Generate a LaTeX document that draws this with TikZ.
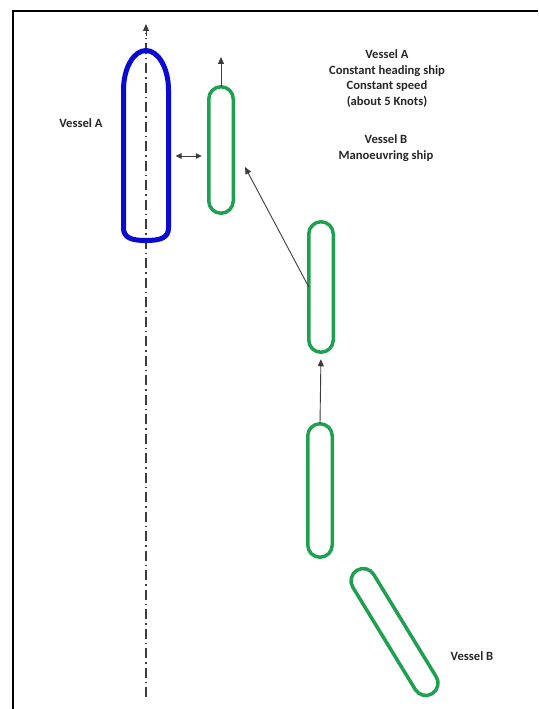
\documentclass[tikz,border=0pt]{standalone}
\usepackage{fontspec}
\setmainfont{Carlito}
\usetikzlibrary{arrows.meta,shapes.misc}
\definecolor{vblue}{RGB}{10,10,210}
\definecolor{vgreen}{RGB}{30,160,80}
\definecolor{arrgray}{RGB}{60,60,60}
\begin{document}
\begin{tikzpicture}[x=1pt,y=1pt,
  shipb/.style={draw=vgreen, line width=3.5pt, rounded rectangle, minimum height=24.5pt, inner sep=0pt, outer sep=0pt},
  arr/.style={draw=arrgray, line width=0.9pt, -{Triangle[length=7pt,width=6pt]}},
  darr/.style={draw=arrgray, line width=0.9pt, {Triangle[length=6pt,width=5.5pt]}-{Triangle[length=6pt,width=5.5pt]}},
  cline/.style={draw=arrgray, line width=1.1pt, dash pattern=on 10pt off 4pt on 1.5pt off 4pt},
  lbl/.style={font=\bfseries\fontsize{12.6}{15.5}\selectfont, text=black!85, align=center, inner sep=0pt}
]
\useasboundingbox (0,0) rectangle (538,-709);
% frame
\draw[line width=2pt] (13,-709) -- (13,-11) -- (538,-11);
% centre line of vessel A
\draw[cline] (146,-697) -- (146,-33);
\draw[arr] (146,-36) -- (146,-24);
% vessel A
\draw[vblue, line width=5pt] (123.5,-228) -- (123.5,-90)
  arc[start angle=180, end angle=0, x radius=22.5, y radius=39.5]
  -- (168.5,-228) .. controls (168.5,-238) and (160,-240.5) .. (146,-240.5)
  .. controls (132,-240.5) and (123.5,-238) .. (123.5,-228) -- cycle;
\coordinate (aE) at (168.5,-156);
% vessel B positions (rotate=90: east = bow/top, west = stern/bottom)
\node[shipb, minimum width=126.5pt, rotate=90] (s1) at (221,-150) {};
\node[shipb, minimum width=130.5pt, rotate=90] (s2) at (321,-287) {};
\node[shipb, minimum width=133.5pt, rotate=90] (s3) at (320,-490.5) {};
\node[shipb, minimum width=144.5pt, rotate=121.4] (s4) at (394.5,-632) {};
% arrows
\coordinate (t1) at (221,-57);
\draw[arr] (s1.east) -- (t1);
\draw[darr, shorten <=7pt, shorten >=7pt] (aE) -- (aE -| s1.north);
\coordinate (t2) at (245,-167);
\draw[arr] (s2.north) -- (t2);
\draw[arr, shorten >=7pt] (s3.east) -- (s2.west);
% labels
\node[lbl] (la) at (81,-123) {Vessel A};
\node[lbl] (info1) at (387,-78.5) {Vessel A\\Constant heading ship\\Constant speed\\(about 5 Knots)};
\node[lbl] (info2) at (386,-148) {Vessel B\\Manoeuvring ship};
\node[lbl] (lb) at (472,-656) {Vessel B};
\end{tikzpicture}
\end{document}
